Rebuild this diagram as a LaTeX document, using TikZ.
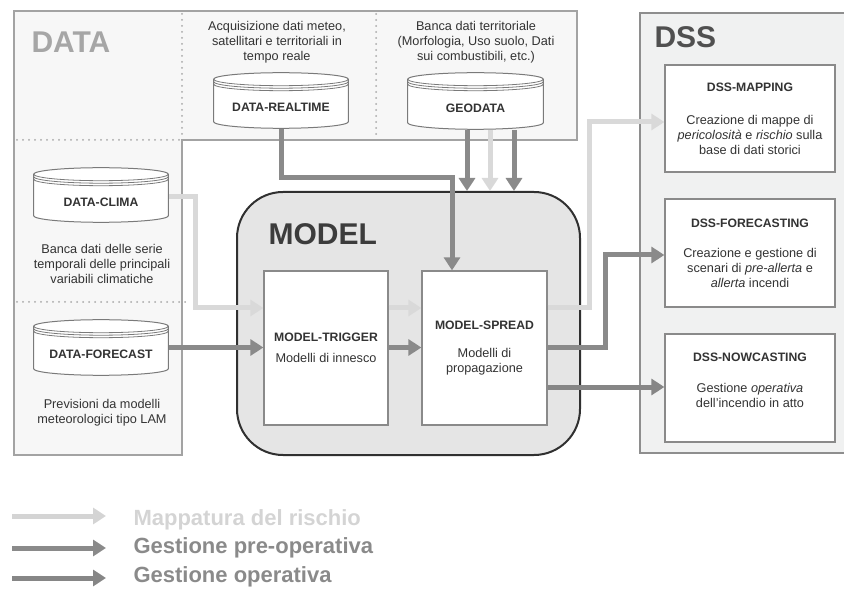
\documentclass[tikz,border=0pt]{standalone}
\usepackage{fontspec}
\setmainfont{Liberation Sans}
\usetikzlibrary{arrows.meta,calc}
\definecolor{txt}{HTML}{333333}
\definecolor{lightc}{HTML}{D9D9D9}
\definecolor{midc}{HTML}{8A8A8A}
\definecolor{opc}{HTML}{868686}
\definecolor{databg}{HTML}{F7F7F7}
\definecolor{dataline}{HTML}{A3A3A3}
\definecolor{dotc}{HTML}{A8A8A8}
\definecolor{dssbg}{HTML}{F0F1F1}
\definecolor{dssline}{HTML}{8E8E8E}
\definecolor{modelbg}{HTML}{E5E5E5}
\definecolor{modelline}{HTML}{303030}
\definecolor{boxline}{HTML}{8A8A8A}
\definecolor{cylc}{HTML}{7A7A7A}
\definecolor{datatxt}{HTML}{A6A6A6}
\definecolor{dsstxt}{HTML}{505050}
\definecolor{modeltxt}{HTML}{3C3C3C}
\definecolor{legl}{HTML}{D4D4D4}
\definecolor{legd}{HTML}{8A8A8A}
\begin{document}
\begin{tikzpicture}[x=1pt,y=1pt,
  every node/.style={font=\fontsize{12.7}{15}\selectfont, text=txt, align=center},
  bigtitle/.style={anchor=base west, font=\fontsize{30}{36}\selectfont\bfseries},
  smallbox/.style={draw=boxline, line width=1.3pt, fill=white, inner sep=0pt},
  dotline/.style={draw=dotc, line width=2pt, line cap=round, dash pattern=on 0pt off 6pt},
  arr/.style={line width=5pt, -{Triangle[width=16pt,length=13pt]}},
  maparr/.style={arr, draw=lightc},
  prearr/.style={arr, draw=midc},
  oparrow/.style={arr, draw=opc},
  legendtxt/.style={anchor=base west, font=\fontsize{22}{26}\selectfont\bfseries},
  cylnode/.style={inner sep=0pt, text height=23pt, text depth=0pt,
    font=\fontsize{12.2}{15}\selectfont\bfseries,
    path picture={
      \filldraw[fill=white, draw=cylc, line width=1pt]
        let \p1=(path picture bounding box.north west),
            \p2=(path picture bounding box.south east),
            \n1={(\x2-\x1)/2-0.7} in
        (\x1+0.7pt,\y1-7.2pt) -- (\x1+0.7pt,\y2+7.2pt)
        arc[start angle=180,end angle=360,x radius={\n1*1pt},y radius=6.5pt]
        -- (\x2-0.7pt,\y1-7.2pt)
        arc[start angle=0,end angle=180,x radius={\n1*1pt},y radius=6.5pt] -- cycle;
      \draw[draw=cylc, line width=0.8pt]
        let \p1=(path picture bounding box.north west),
            \p2=(path picture bounding box.south east),
            \n1={(\x2-\x1)/2-0.7} in
        (\x1+0.7pt,\y1-7.2pt) arc[start angle=180,end angle=360,x radius={\n1*1pt},y radius=6.5pt]
        (\x1+0.7pt,\y1-9.7pt) arc[start angle=180,end angle=360,x radius={\n1*1pt},y radius=6.5pt]
        (\x1+0.7pt,\y1-12.2pt) arc[start angle=180,end angle=360,x radius={\n1*1pt},y radius=6.5pt];
    }}
]
\useasboundingbox (0,0) rectangle (844,590);

% DATA area
\draw[fill=databg, draw=dataline, line width=2pt] (14,579) -- (577,579) -- (577,450) -- (182,450) -- (182,135) -- (14,135) -- cycle;
\draw[dotline] (182,576) -- (182,452);
\draw[dotline] (376,576) -- (376,452);
\draw[dotline] (17,450) -- (180,450);
\draw[dotline] (17,288) -- (188,288);
\node[bigtitle, text=datatxt] (datalbl) at (28,537) {DATA};

% DSS area (runs off the right edge)
\node[draw=dssline, fill=dssbg, line width=2.5pt, minimum width=230pt, minimum height=440pt, inner sep=0pt] (dss) at (755,357) {};
\node[bigtitle, text=dsstxt] (dsslbl) at (651,542) {DSS};

% MODEL area
\node[draw=modelline, fill=modelbg, line width=2pt, rounded corners=46pt, minimum width=343pt, minimum height=263pt, inner sep=0pt] (model) at (408.5,266.5) {};
\node[bigtitle, text=modeltxt] (modellbl) at (265,345) {MODEL};

% data cylinders
\node[cylnode, minimum width=136pt, minimum height=57pt] (rt) at (281,489.5) {DATA-REALTIME};
\node[cylnode, minimum width=137pt, minimum height=58pt] (geo) at (475.5,489) {GEODATA};
\node[cylnode, minimum width=136pt, minimum height=56pt] (clima) at (101,395) {DATA-CLIMA};
\node[cylnode, minimum width=136pt, minimum height=57pt] (fc) at (101,242.5) {DATA-FORECAST};

% descriptions
\node (rtdesc) at (277,548) {Acquisizione dati meteo,\\satellitari e territoriali in\\tempo reale};
\node (geodesc) at (476,548) {Banca dati territoriale\\(Morfologia, Uso suolo, Dati\\sui combustibili, etc.)};
\node (climadesc) at (102,326) {Banca dati delle serie\\temporali delle principali\\variabili climatiche};
\node (fcdesc) at (102,177) {Previsioni da modelli\\meteorologici tipo LAM};

% model boxes
\node[smallbox, minimum width=124pt, minimum height=154pt] (trig) at (326,242) {\textbf{\fontsize{12.2}{15}\selectfont MODEL-TRIGGER}\\[6pt]Modelli di innesco};
\node[smallbox, minimum width=125pt, minimum height=154pt] (spread) at (484.5,242) {\textbf{\fontsize{12.2}{15}\selectfont MODEL-SPREAD}\\[13pt]Modelli di\\propagazione};

% DSS boxes
\node[smallbox, minimum width=170pt, minimum height=107pt] (map) at (750,471.5) {\textbf{\fontsize{12.2}{15}\selectfont DSS-MAPPING}\\[18pt]Creazione di mappe di\\\textit{pericolosità} e \textit{rischio} sulla\\base di dati storici};
\node[smallbox, minimum width=170pt, minimum height=108pt] (fcst) at (750,337) {\textbf{\fontsize{12.2}{15}\selectfont DSS-FORECASTING}\\[15pt]Creazione e gestione di\\scenari di \textit{pre-allerta} e\\\textit{allerta} incendi};
\node[smallbox, minimum width=170pt, minimum height=108pt] (now) at (750,202) {\textbf{\fontsize{12.2}{15}\selectfont DSS-NOWCASTING}\\[16pt]Gestione \textit{operativa}\\dell'incendio in atto\\\mbox{}};

% connectors
\draw[prearr] (rt.south) -- ++(0,-48) -| ([xshift=-32.5pt]spread.north);
\draw[prearr] ([xshift=-8.5pt]geo.south) -- ([xshift=-8.5pt]geo.south |- model.north);
\draw[maparr] ([xshift=14.5pt]geo.south) -- ([xshift=14.5pt]geo.south |- model.north);
\draw[prearr] ([xshift=38.5pt]geo.south) -- ([xshift=38.5pt]geo.south |- model.north);
\draw[maparr] ([yshift=-2pt]clima.east) -- ++(26,0) |- ([yshift=40pt]trig.west);
\draw[maparr] ([yshift=40pt]trig.east) -- ([yshift=40pt]spread.west);
\draw[prearr] (fc.east) -- (fc.east -| trig.west);
\draw[prearr] (trig.east |- fc.east) -- (spread.west |- fc.east);
\draw[maparr] ([yshift=40pt]spread.east) -- ++(42,0) |- ([yshift=-3.5pt]map.west);
\draw[prearr] (spread.east) -- ++(58,0) |- ([yshift=-2pt]fcst.west);
\draw[oparrow] ([yshift=-39pt]spread.east) -- ([yshift=1pt]now.west);

% legend
\coordinate (l1s) at (12,74); \coordinate (l1e) at (106,74);
\coordinate (l2s) at (12,42); \coordinate (l2e) at (106,42);
\coordinate (l3s) at (12,12); \coordinate (l3e) at (106,12);
\draw[maparr, draw=legl] (l1s) -- (l1e);
\draw[prearr, draw=legd] (l2s) -- (l2e);
\draw[oparrow] (l3s) -- (l3e);
\node[legendtxt, text=legl] (lg1) at (130,65) {Mappatura del rischio};
\node[legendtxt, text=legd] (lg2) at (130,37) {Gestione pre-operativa};
\node[legendtxt, text=legd] (lg3) at (130,8) {Gestione operativa};
\end{tikzpicture}
\end{document}
